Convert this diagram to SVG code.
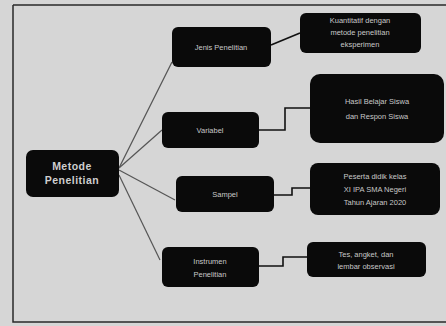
<svg xmlns="http://www.w3.org/2000/svg" width="446" height="326" viewBox="0 0 446 326">
<style>
.box{fill:#0a0a0a;}
.t{fill:#c8c8c8;font-family:"Liberation Sans",Arial,sans-serif;font-size:7.5px;text-anchor:middle;}
.tb{fill:#cfcfcf;font-family:"Liberation Sans",Arial,sans-serif;font-size:10.5px;font-weight:bold;text-anchor:middle;letter-spacing:0.5px;}
.c{fill:none;stroke:#555;stroke-width:1.2;}
.e{fill:none;stroke:#111;stroke-width:1.6;}
</style>
<rect x="0" y="0" width="446" height="326" fill="#d6d6d6"/>
<path d="M13 5 H446 M13 5 V322 H446" fill="none" stroke="#2a2a2a" stroke-width="1.5"/>
<g id="connectors">
<path class="c" d="M119 168 L172 62"/>
<path class="c" d="M119 168 L162 130"/>
<path class="c" d="M119 170 L175 200"/>
<path class="c" d="M119 175 L160 260"/>
<path class="e" d="M271 45 L300 33"/>
<path class="e" d="M259 130 H285 V108 H310"/>
<path class="e" d="M274 195 H292 V188 H310"/>
<path class="e" d="M259 266 H283 V257 H307"/>
</g>
<g id="metode">
<rect class="box" x="26" y="150" width="93" height="47" rx="7"/>
<text class="tb" x="72" y="170">Metode</text>
<text class="tb" x="72" y="184">Penelitian</text>
</g>
<g id="jenis">
<rect class="box" x="172" y="27" width="99" height="40" rx="6"/>
<text class="t" x="221" y="50">Jenis Penelitian</text>
</g>
<g id="jenis-detail">
<rect class="box" x="300" y="13" width="121" height="40" rx="6"/>
<text class="t" x="360" y="23">Kuantitatif dengan</text>
<text class="t" x="360" y="35">metode penelitian</text>
<text class="t" x="360" y="47">eksperimen</text>
</g>
<g id="variabel">
<rect class="box" x="162" y="112" width="97" height="36" rx="6"/>
<text class="t" x="210" y="133">Variabel</text>
</g>
<g id="variabel-detail">
<rect class="box" x="310" y="74" width="134" height="69" rx="10"/>
<text class="t" x="377" y="104">Hasil Belajar Siswa</text>
<text class="t" x="377" y="119">dan Respon Siswa</text>
</g>
<g id="sampel">
<rect class="box" x="176" y="176" width="98" height="36" rx="6"/>
<text class="t" x="225" y="197">Sampel</text>
</g>
<g id="sampel-detail">
<rect class="box" x="310" y="163" width="130" height="52" rx="8"/>
<text class="t" x="375" y="179">Peserta didik kelas</text>
<text class="t" x="375" y="192">XI IPA SMA Negeri</text>
<text class="t" x="375" y="205">Tahun Ajaran 2020</text>
</g>
<g id="instrumen">
<rect class="box" x="162" y="247" width="97" height="40" rx="6"/>
<text class="t" x="210" y="264">Instrumen</text>
<text class="t" x="210" y="277">Penelitian</text>
</g>
<g id="instrumen-detail">
<rect class="box" x="307" y="242" width="119" height="35" rx="6"/>
<text class="t" x="366" y="257">Tes, angket, dan</text>
<text class="t" x="366" y="269">lembar observasi</text>
</g>
</svg>
